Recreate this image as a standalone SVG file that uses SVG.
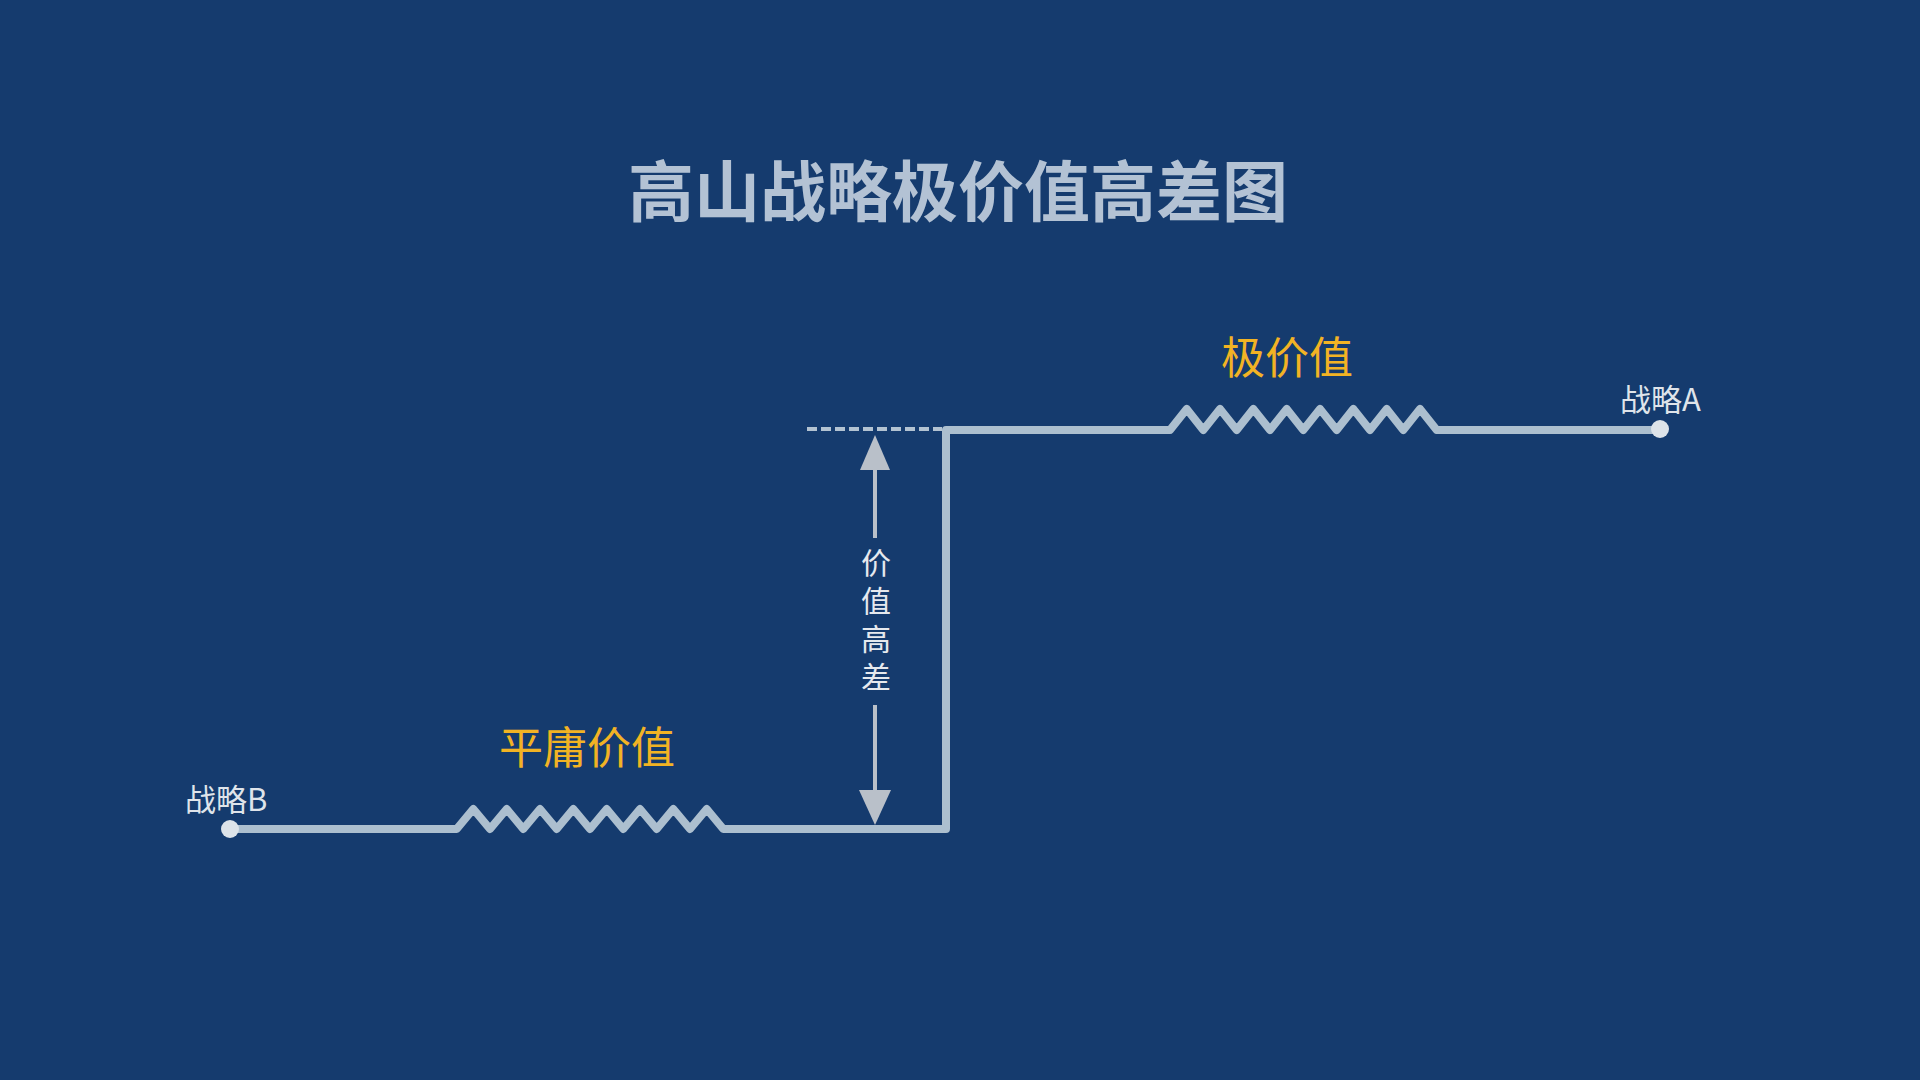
<svg xmlns="http://www.w3.org/2000/svg" width="1920" height="1080" viewBox="0 0 1920 1080">
  <style>
    .title { font-family: "Noto Sans CJK SC", "Noto Sans", sans-serif; font-size: 66px; font-weight: bold; fill: #b3c2d4; }
    .orange { font-family: "Noto Sans CJK SC", "Noto Sans", sans-serif; font-size: 44px; fill: #f2b324; }
    .label { font-family: "Noto Sans CJK SC", "Noto Sans", sans-serif; font-size: 31px; fill: #dfe4ea; }
    .vtext { font-family: "Noto Sans CJK SC", "Noto Sans", sans-serif; font-size: 30px; fill: #e6e9ee; writing-mode: vertical-rl; letter-spacing: 8px; }
    .main { fill: none; stroke: #acbfcf; stroke-width: 8; stroke-linejoin: round; stroke-linecap: round; }
    .dash { fill: none; stroke: #b3c3d2; stroke-width: 4; stroke-dasharray: 10 4; }
    .arrow { stroke: #b9c0c9; stroke-width: 4; fill: none; }
    .head { fill: #b9c0c9; }
    .dot { fill: #dde3e9; }
  </style>
  <rect x="0" y="0" width="1920" height="1080" fill="#153b6e"/>
  <text class="title" x="958" y="216" text-anchor="middle">高山战略极价值高差图</text>

  <g id="connectors">
    <path class="main" d="M230,829 H456.7 L473.3,809 L490,829 L506.7,809 L523.3,829 L540,809 L556.7,829 L573.3,809 L590,829 L606.7,809 L623.3,829 L640,809 L656.7,829 L673.3,809 L690,829 L706.7,809 L723.3,829 H946 V430 H1170 L1186.7,409 L1203.3,430 L1220,409 L1236.7,430 L1253.3,409 L1270,430 L1286.7,409 L1303.3,430 L1320,409 L1336.7,430 L1353.3,409 L1370,430 L1386.7,409 L1403.3,430 L1420,409 L1436.7,430 H1660"/>
    <line class="dash" x1="807" y1="429" x2="942" y2="429"/>
  </g>

  <g id="value-gap">
    <line class="arrow" x1="875" y1="465" x2="875" y2="538"/>
    <polygon class="head" points="875,435 860,470 890,470"/>
    <line class="arrow" x1="875" y1="705" x2="875" y2="795"/>
    <polygon class="head" points="875,825 859,790 891,790"/>
    <text class="vtext" x="876" y="548">价值高差</text>
  </g>

  <g id="strategy-b">
    <circle class="dot" cx="230" cy="829" r="9"/>
    <text class="label" x="185" y="811">战略B</text>
  </g>

  <g id="mediocre-value">
    <text class="orange" x="587" y="764" text-anchor="middle">平庸价值</text>
  </g>

  <g id="extreme-value">
    <text class="orange" x="1287" y="374" text-anchor="middle">极价值</text>
  </g>

  <g id="strategy-a">
    <circle class="dot" cx="1660" cy="429" r="9"/>
    <text class="label" x="1620" y="411">战略A</text>
  </g>
</svg>
